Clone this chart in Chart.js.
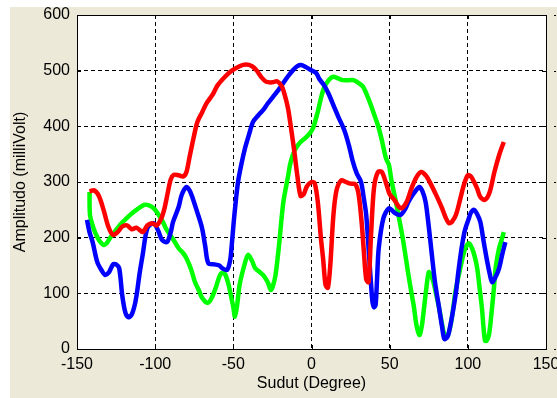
<!DOCTYPE html>
<html>
<head>
<meta charset="utf-8">
<script src="https://cdn.jsdelivr.net/npm/chart.js@4.4.0/dist/chart.umd.min.js"></script>
<style>
  html, body { margin: 0; padding: 0; background: #fff; }
  canvas { display: block; }
</style>
</head>
<body>
<canvas id="ampChart" width="557" height="398"></canvas>
<script>
// angles (degree) and amplitudes (milliVolt)
var redX = [-142,-139,-136,-133,-130,-127,-124,-121,-118,-115,-112,-108,-105,-102,-99,-96,-94,-92,-90,-88,-85,-82,-80,-78,-75,-73,-70,-67,-63,-60,-55,-51,-46,-42,-38,-35,-32,-29,-25,-22,-19,-17,-15,-13,-11,-9,-7,-5,-3,0,2,4,6,7.5,9,10.5,12,14,16,19,22,25,28,30,32,33.5,35,36.5,38,40,42.5,45,48,50,53,56,58,61,64,67,70,73,76,80,83.5,86,88,90,92.4,95,97.5,100,102,104,106,108,111,114,117,120,123];
var redY = [283,285,275,250,220,205,210,220,222,215,218,210,222,226,222,235,253,280,305,313,312,310,318,345,385,408,425,442,458,474,490,500,508,511,508,500,488,480,479,481,472,455,432,395,355,310,275,278,292,300,298,265,200,160,115,110,150,240,285,303,300,297,296,280,230,175,125,120,200,290,318,318,295,278,268,255,253,265,289,308,318,312,298,275,253,235,226,229,241,268,295,312,310,300,288,273,268,282,318,348,372];

var blueX = [-143.6,-142,-140,-137,-134,-132,-129.5,-127,-125,-123,-121,-119,-117,-115,-113,-111.6,-110,-108,-105,-101,-98,-95.6,-92.5,-90,-88.6,-85,-83,-80,-78,-76,-73,-70,-68,-66,-62,-59,-57,-54,-52,-51,-50,-49,-47,-45,-42.5,-40,-37.4,-34,-31,-28,-24.6,-21,-18,-15,-11.8,-9,-6.7,-4,-1,2.9,5,8,11,14,17,21,24,26.5,29,31.7,33.5,35,36.8,38,39,40,41,42,43,46,49.6,53,57,60,62,65,69,71,73,75,77,79,81.6,83.5,85,87,88,90,92.4,94,96,98,100.7,102,104,106,108,110,112,114,115.5,117.5,120,122,124];
var blueY = [232,210,192,156,140,133,138,152,152,145,95,65,57,62,80,102,135,169,217,226,212,196,192,210,228,255,277,291,285,271,245,217,185,154,152,150,145,142,160,187,220,250,300,330,361,385,408,420,429,441,453,466,478,490,501,508,510,507,502,496,485,474,458,438,418,393,365,336,315,300,270,241,169,120,85,75,79,130,181,235,253,245,241,252,264,278,291,283,264,220,169,120,74,40,18,22,31,60,102,140,181,212,235,245,250,242,228,195,163,135,120,128,145,170,192];

var greenX = [-142,-141.7,-140,-138.5,-136,-133,-131,-129,-126,-122.5,-119,-116,-112,-107,-104,-101,-98,-95,-93,-90.5,-88,-85,-82,-80,-77,-74.5,-72,-70,-67,-65,-63,-61,-58.5,-56.5,-55,-53,-52,-50,-49,-47.5,-46,-43,-40.6,-38,-36,-33,-31,-28,-26,-24.5,-23,-21,-18,-15,-13.8,-12,-10,-7,-4,-1,1,4,6,8,11,13.8,17,20,24,27,30,33,35.5,38,40.5,43,45,47.6,49.6,51,54,56,58,60,62,64,65.6,67,69,70.5,72,73.5,75,76.5,78,80,81.6,83.5,85,86.5,88,90,92,94,96,98,100.7,102.7,104.5,106,107.5,109,110,111,112,113.5,115,116.7,118,120,121.5,123];
var greenY = [282,241,222,210,196,187,190,199,210,223,233,241,250,259,258,253,242,228,216,205,195,181,172,163,143,120,105,92,83,86,97,112,133,137,133,115,102,75,58,80,115,150,169,158,145,138,133,120,106,115,133,180,264,310,330,348,361,372,379,388,397,426,450,469,483,489,486,483,483,483,478,471,456,438,418,397,375,343,330,305,264,235,205,170,133,100,74,45,25,40,74,110,138,132,120,95,74,45,25,22,31,60,102,130,156,178,190,181,165,145,110,74,40,15,15,25,60,110,150,181,195,210];

var xTicks = [-150, -100, -50, 0, 50, 100, 150];
var yTicks = [0, 100, 200, 300, 400, 500, 600];

function pts(xs, ys) {
  return xs.map(function(x, i) { return { x: x, y: ys[i] }; });
}

function lineSet(label, xs, ys, color) {
  return {
    label: label,
    data: pts(xs, ys),
    borderColor: color,
    backgroundColor: color,
    borderWidth: 4.5,
    pointRadius: 0,
    tension: 0.3,
    fill: false
  };
}

var fontFam = "'Liberation Sans', Arial, sans-serif";

// figure background, white axes box, frame and inward ticks (MATLAB look)
var figurePlugin = {
  id: "figure",
  beforeDraw: function(chart) {
    var ctx = chart.ctx, a = chart.chartArea;
    ctx.save();
    ctx.fillStyle = "#ffffff";
    ctx.fillRect(0, 0, chart.width, chart.height);
    ctx.fillStyle = "#ece9d8";
    ctx.fillRect(10, 7, chart.width - 10, chart.height - 7);
    ctx.fillStyle = "#ffffff";
    ctx.fillRect(a.left, a.top, a.right - a.left, a.bottom - a.top);
    ctx.restore();
  },
  afterDraw: function(chart) {
    var ctx = chart.ctx, a = chart.chartArea;
    var xs = chart.scales.x, ys = chart.scales.y;
    ctx.save();
    ctx.strokeStyle = "#000";
    ctx.lineWidth = 1;
    ctx.setLineDash([]);
    ctx.strokeRect(Math.round(a.left) + 0.5, Math.round(a.top) + 0.5,
      Math.round(a.right - a.left), Math.round(a.bottom - a.top));
    ctx.beginPath();
    xTicks.forEach(function(v) {
      var px = Math.round(xs.getPixelForValue(v)) + 0.5;
      ctx.moveTo(px, a.bottom); ctx.lineTo(px, a.bottom - 4);
      ctx.moveTo(px, a.top); ctx.lineTo(px, a.top + 4);
    });
    yTicks.forEach(function(v) {
      var py = Math.round(ys.getPixelForValue(v)) + 0.5;
      ctx.moveTo(a.left, py); ctx.lineTo(a.left + 4, py);
      ctx.moveTo(a.right, py); ctx.lineTo(a.right - 4, py);
      // edge of the neighbouring axes on the right
      ctx.moveTo(chart.width - 3, py); ctx.lineTo(chart.width - 1, py);
    });
    ctx.stroke();
    ctx.restore();
  }
};

new Chart(document.getElementById("ampChart"), {
  type: "line",
  data: {
    datasets: [
      lineSet("Merah", redX, redY, "#ff0000"),
      lineSet("Biru", blueX, blueY, "#0000ff"),
      lineSet("Hijau", greenX, greenY, "#00ff00")
    ]
  },
  options: {
    responsive: false,
    animation: false,
    layout: { padding: { top: 15, right: 11, left: 0, bottom: 0 } },
    plugins: {
      legend: { display: false },
      tooltip: { enabled: false }
    },
    scales: {
      x: {
        type: "linear",
        min: -150,
        max: 150,
        afterBuildTicks: function(s) { s.ticks = xTicks.map(function(v) { return { value: v }; }); },
        afterFit: function(s) { s.height = 49; s.paddingLeft = 0; s.paddingRight = 0; },
        grid: { color: "#000", lineWidth: 1, drawTicks: false },
        border: { display: false, dash: [4, 3] },
        ticks: { color: "#000", padding: 6, maxRotation: 0, font: { family: fontFam, size: 16 } },
        title: {
          display: true,
          text: "Sudut (Degree)",
          color: "#000",
          padding: { top: 0, bottom: 5 },
          font: { family: fontFam, size: 16 }
        }
      },
      y: {
        type: "linear",
        min: 0,
        max: 600,
        afterBuildTicks: function(s) { s.ticks = yTicks.map(function(v) { return { value: v }; }); },
        afterFit: function(s) { s.width = 77; s.paddingTop = 0; s.paddingBottom = 0; },
        grid: { color: "#000", lineWidth: 1, drawTicks: false },
        border: { display: false, dash: [4, 3] },
        ticks: { color: "#000", padding: 7, font: { family: fontFam, size: 16 } },
        title: {
          display: true,
          text: "Amplitudo (milliVolt)",
          color: "#000",
          padding: { top: 11, bottom: 0 },
          font: { family: fontFam, size: 16 }
        }
      }
    }
  },
  plugins: [figurePlugin]
});
</script>
</body>
</html>
